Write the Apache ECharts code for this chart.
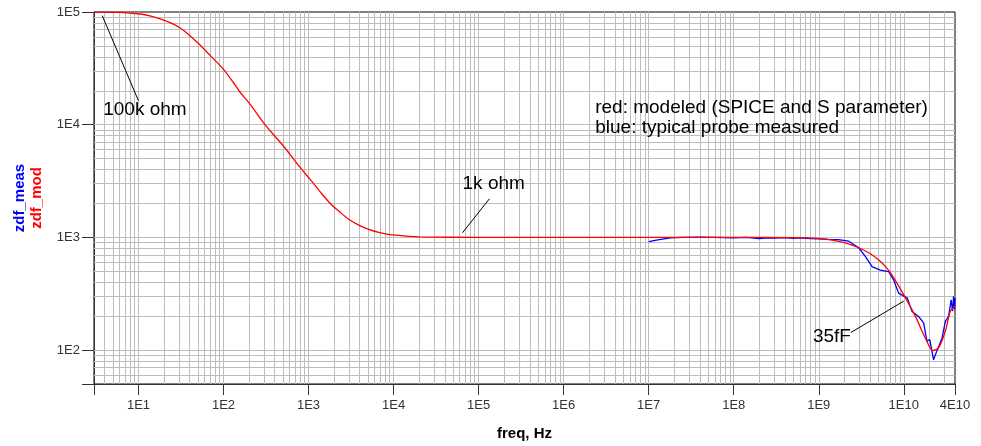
<!DOCTYPE html>
<html><head><meta charset="utf-8">
<script src="https://cdn.jsdelivr.net/npm/echarts@6/dist/echarts.min.js"></script>
<style>html,body{margin:0;padding:0;background:#fff}#c{width:981px;height:446px}</style>
</head><body><div id="c"></div>
<script>
// modeled impedance (red)
const modFreq = [3, 6, 10.5, 14, 18, 24, 31, 40, 53, 70, 100, 130, 156, 205, 293, 390, 504, 791, 1050, 1358, 1800, 2330, 3000, 4000, 5200, 6870, 9000, 11800, 15000, 20000, 1e5, 1e6, 1e7, 1e8, 5e8, 9e8, 1.44e9, 2.1e9, 2.95e9, 4e9, 5.07e9, 6.1e9, 7.27e9, 1e10, 1.37e10, 1.79e10, 2.2e10, 2.57e10, 3.08e10, 3.52e10, 4e10];
const modVal  = [99900, 99200, 96000, 92000, 87000, 80000, 72000, 62000, 51000, 41000, 31000, 23800, 19500, 15200, 10500, 8100, 6500, 4200, 3250, 2560, 2000, 1680, 1440, 1270, 1170, 1100, 1060, 1040, 1020, 1010, 1000, 1000, 1000, 1000, 995, 985, 944, 890, 809, 720, 630, 550, 463, 309, 199, 128, 99, 105, 147, 220, 245];
// measured impedance (blue)
const measFreq = [1e7, 1.33e7, 1.8e7, 2.5e7, 4e7, 6e7, 1e8, 1.4e8, 2e8, 2.5e8, 3e8, 4e8, 5e8, 6e8, 8e8, 1e9, 1.3e9, 1.7e9, 2.25e9, 2.95e9, 3.54e9, 4.24e9, 5.3e9, 6.65e9, 7.6e9, 8.7e9, 1.1e10, 1.25e10, 1.49e10, 1.71e10, 1.87e10, 2.02e10, 2.24e10, 2.35e10, 2.45e10, 2.82e10, 3.08e10, 3.36e10, 3.5e10, 3.6e10, 3.75e10, 3.85e10, 3.95e10, 4e10];
const measVal  = [915, 957, 990, 1000, 1005, 1000, 990, 1000, 975, 990, 985, 995, 980, 990, 975, 970, 960, 955, 925, 809, 675, 550, 513, 497, 419, 320, 289, 220, 199, 174, 120, 124, 82, 91, 98, 128, 180, 199, 240, 279, 222, 300, 230, 290];
// axis ticks
const xTickValues = [1e1, 1e2, 1e3, 1e4, 1e5, 1e6, 1e7, 1e8, 1e9, 1e10, 4e10];
const xTickLabels = ['1E1', '1E2', '1E3', '1E4', '1E5', '1E6', '1E7', '1E8', '1E9', '1E10', '4E10'];
const yTickValues = [1e2, 1e3, 1e4, 1e5];
const yTickLabels = ['1E2', '1E3', '1E4', '1E5'];
// annotations
const annotTexts = ['100k ohm', '1k ohm', '35fF', 'red: modeled (SPICE and S parameter)\nblue: typical probe measured'];
const annotTextAt = [[3.85, 13600], [64700, 3020], [8.53e8, 131], [2.35e6, 11500]];
const leaderFrom = [[3.75, 92800], [64700, 1100], [2.38e9, 143]];
const leaderTo = [[10, 16300], [1.34e5, 2200], [1e10, 272]];

const X_MIN = 3, X_MAX = 4e10, Y_MIN = 50, Y_MAX = 1e5;
const FONT = '"Liberation Sans", Arial, sans-serif';
function fmt(values, labels) {
  return function (v) {
    for (let i = 0; i < values.length; i++) {
      if (Math.abs(v / values[i] - 1) < 1e-6) return labels[i];
    }
    return '';
  };
}
// grid line positions (1..9 within each decade)
const xGrid = [], yGrid = [];
for (let d = 0; d <= 10; d++) for (let k = 1; k <= 9; k++) { const v = k * Math.pow(10, d); if (v > X_MIN * 1.0001 && v < X_MAX * 0.9999) xGrid.push(v); }
for (let d = 1; d <= 4; d++) for (let k = 1; k <= 9; k++) { const v = k * Math.pow(10, d); if (v > Y_MIN * 1.0001 && v < Y_MAX * 0.9999) yGrid.push(v); }

const chart = echarts.init(document.getElementById('c'), null, {renderer: 'canvas'});
const axisText = {color: '#333', fontSize: 13, fontFamily: FONT};
chart.setOption({
  animation: false,
  backgroundColor: '#fff',
  grid: {left: 94, right: 26, top: 12, bottom: 60, show: true, borderColor: '#000', borderWidth: 1, backgroundColor: 'transparent'},
  xAxis: {
    type: 'log', logBase: 10, min: X_MIN, max: X_MAX,
    name: 'freq, Hz', nameLocation: 'middle', nameGap: 42,
    nameTextStyle: {color: '#000', fontSize: 15, fontWeight: 'bold', fontFamily: FONT},
    axisLine: {show: true, lineStyle: {color: '#333', width: 1}},
    axisTick: {show: true, length: 11, lineStyle: {color: '#333'}, customValues: [X_MIN].concat(xTickValues)},
    axisLabel: {show: true, margin: 15, customValues: xTickValues, formatter: fmt(xTickValues, xTickLabels), ...axisText},
    splitLine: {show: false}
  },
  yAxis: [{
    type: 'log', logBase: 10, min: Y_MIN, max: Y_MAX,
    name: 'zdf_mod', nameLocation: 'middle', nameGap: 50,
    nameTextStyle: {color: '#ff0000', fontSize: 15, fontWeight: 'bold', fontFamily: FONT},
    axisLine: {show: true, lineStyle: {color: '#333', width: 1}},
    axisTick: {show: true, length: 12, lineStyle: {color: '#333'}, customValues: [Y_MIN].concat(yTickValues)},
    axisLabel: {show: true, margin: 14, customValues: yTickValues, formatter: fmt(yTickValues, yTickLabels), ...axisText},
    splitLine: {show: false}
  }, {
    type: 'log', logBase: 10, min: Y_MIN, max: Y_MAX, position: 'left',
    name: 'zdf_meas', nameLocation: 'middle', nameGap: 67,
    nameTextStyle: {color: '#0000ff', fontSize: 15, fontWeight: 'bold', fontFamily: FONT},
    axisLine: {show: false}, axisTick: {show: false}, axisLabel: {show: false}, splitLine: {show: false}
  }],
  series: [
    {
      type: 'line', data: [], silent: true, z: 1,
      markLine: {
        z: 1, silent: true, symbol: ['none', 'none'], label: {show: false}, animation: false,
        lineStyle: {color: '#bdbdbd', width: 1, type: 'solid'},
        emphasis: {disabled: true},
        data: xGrid.map(v => ({xAxis: v})).concat(yGrid.map(v => ({yAxis: v})))
      }
    },
    {
      name: 'zdf_meas', type: 'line', z: 3, showSymbol: false, symbol: 'none',
      lineStyle: {color: '#0000ff', width: 1.3}, itemStyle: {color: '#0000ff'},
      data: measFreq.map((f, i) => [f, measVal[i]])
    },
    {
      name: 'zdf_mod', type: 'line', z: 4, showSymbol: false, symbol: 'none', smooth: 0.3,
      lineStyle: {color: '#ff0000', width: 1.3}, itemStyle: {color: '#ff0000'},
      data: modFreq.map((f, i) => [f, modVal[i]])
    },
    {
      type: 'line', data: [], silent: true, z: 5,
      markLine: {
        z: 5, silent: true, symbol: ['none', 'none'], label: {show: false}, animation: false,
        lineStyle: {color: '#000', width: 1, type: 'solid'},
        emphasis: {disabled: true},
        data: leaderFrom.map((p, i) => [{coord: p}, {coord: leaderTo[i]}])
      },
      markPoint: {
        z: 6, silent: true, symbol: 'circle', symbolSize: 0, animation: false,
        itemStyle: {color: 'transparent'},
        label: {show: true, position: 'right', distance: 0, color: '#000', fontSize: 19, lineHeight: 20, fontFamily: FONT},
        data: annotTextAt.map((p, i) => ({coord: p, value: annotTexts[i], label: {formatter: annotTexts[i]}}))
      }
    }
  ]
});
</script></body></html>
